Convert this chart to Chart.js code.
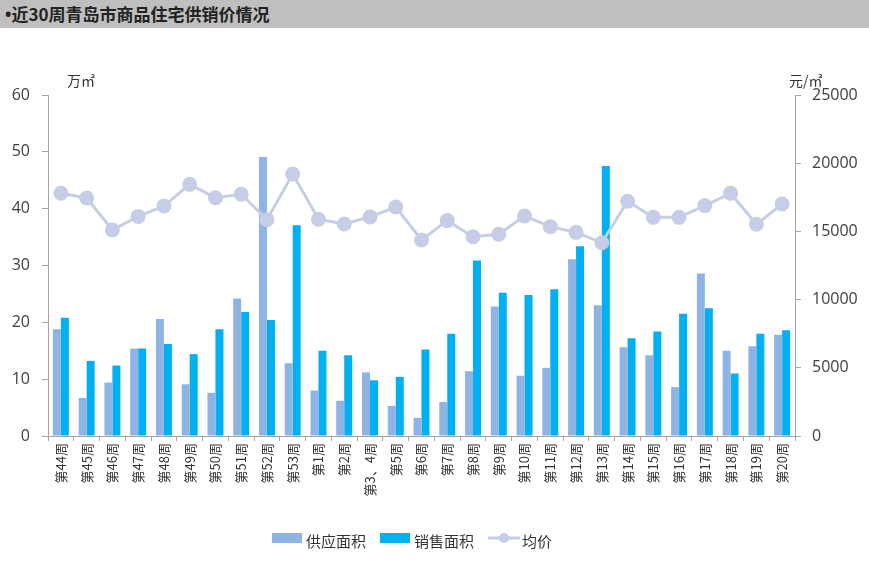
<!DOCTYPE html>
<html>
<head>
<meta charset="utf-8">
<script src="https://cdn.jsdelivr.net/npm/chart.js@4"></script>
<style>
  body { margin: 0; background: #fff; font-family: "Noto Sans CJK SC", sans-serif; }
  #wrap { position: relative; width: 869px; height: 580px; overflow: hidden; }
  #title { position: absolute; left: 0; top: 0; width: 869px; height: 28px; background: #bfbfbf;
           font-weight: bold; font-size: 17px; line-height: 28px; color: #222; padding-left: 5px; box-sizing: border-box; }
  #title .dot { font-family: "Open Sans", sans-serif; }
  canvas { position: absolute; left: 0; top: 0; }
  .unit { position: absolute; top: 70px; font-size: 14px; color: #333; }
  #legend { position: absolute; top: 530px; left: 272px; display: flex; font-size: 15px; color: #333; }
  .item { display: flex; align-items: center; margin-right: 14px; }
  .sw { width: 30px; height: 10px; margin-right: 4px; position: relative; top: -3px; }
</style>
</head>
<body>
<div id="wrap">
  <canvas id="chart" width="869" height="580"></canvas>
  <div id="title"><span class="dot">•</span>近30周青岛市商品住宅供销价情况</div>
  <div class="unit" style="left:67px">万㎡</div>
  <div class="unit" style="left:789px">元/㎡</div>
  <div id="legend"></div>
</div>
<script>
// week labels
const weeks = ['第44周','第45周','第46周','第47周','第48周','第49周','第50周','第51周','第52周','第53周',
  '第1周','第2周','第3、4周','第5周','第6周','第7周','第8周','第9周','第10周','第11周','第12周',
  '第13周','第14周','第15周','第16周','第17周','第18周','第19周','第20周'];

// 万㎡
const supplyArea = [18.8, 6.7, 9.4, 15.4, 20.6, 9.1, 7.6, 24.2, 49.1, 12.8,
  8.0, 6.2, 11.2, 5.3, 3.2, 6.0, 11.4, 22.8, 10.6, 12.0, 31.1,
  23.0, 15.6, 14.2, 8.6, 28.6, 15.0, 15.8, 17.8];
const salesArea = [20.8, 13.2, 12.4, 15.4, 16.2, 14.4, 18.8, 21.8, 20.4, 37.1,
  15.0, 14.2, 9.8, 10.4, 15.2, 18.0, 30.9, 25.2, 24.8, 25.8, 33.4,
  47.5, 17.2, 18.4, 21.5, 22.5, 11.0, 18.0, 18.6];

// 元/㎡
const avgPrice = [17800, 17450, 15100, 16100, 16860, 18450, 17470, 17720, 15860, 19210,
  15890, 15540, 16060, 16790, 14370, 15790, 14610, 14790, 16130, 15350, 14930,
  14170, 17210, 16030, 16030, 16890, 17790, 15520, 17010];

const COLORS = {
    supply: '#8eb4e3',
    sales: '#00b0f0',
    price: '#c5cee6',
    axis: '#a6a6a6',
    text: '#404040'
};

const tickFont = { family: '"Open Sans", "Noto Sans CJK SC", sans-serif', size: 16 };

new Chart(document.getElementById('chart'), {
    type: 'bar',
    data: {
        labels: weeks,
        datasets: [
            {
                type: 'line',
                label: '均价',
                data: avgPrice,
                yAxisID: 'y1',
                borderColor: COLORS.price,
                backgroundColor: COLORS.price,
                borderWidth: 3,
                pointRadius: 6,
                pointHoverRadius: 6,
                tension: 0,
                order: 0
            },
            {
                label: '供应面积',
                data: supplyArea,
                backgroundColor: COLORS.supply,
                yAxisID: 'y',
                categoryPercentage: 0.62,
                barPercentage: 1,
                order: 1
            },
            {
                label: '销售面积',
                data: salesArea,
                backgroundColor: COLORS.sales,
                yAxisID: 'y',
                categoryPercentage: 0.62,
                barPercentage: 1,
                order: 1
            }
        ]
    },
    options: {
        responsive: false,
        animation: false,
        layout: { padding: { top: 95, bottom: 64, left: 0, right: 0 } },
        plugins: {
            legend: { display: false },
            tooltip: { enabled: false }
        },
        scales: {
            x: {
                grid: { drawOnChartArea: false, offset: true, tickLength: 5, color: COLORS.axis },
                border: { color: COLORS.axis },
                ticks: {
                    color: '#333',
                    font: { family: '"Noto Sans CJK SC", sans-serif', size: 13 },
                    minRotation: 90,
                    maxRotation: 90,
                    autoSkip: false,
                    padding: 2
                },
                afterFit: scale => { scale.height = 80; }
            },
            y: {
                position: 'left',
                min: 0,
                max: 60,
                grid: { drawOnChartArea: false, tickLength: 6, color: COLORS.axis },
                border: { color: COLORS.axis },
                ticks: { stepSize: 10, color: COLORS.text, font: tickFont, padding: 12 },
                afterFit: scale => { scale.width = 48; }
            },
            y1: {
                position: 'right',
                min: 0,
                max: 25000,
                grid: { drawOnChartArea: false, tickLength: 6, color: COLORS.axis },
                border: { color: COLORS.axis },
                ticks: {
                    stepSize: 5000,
                    color: COLORS.text,
                    font: tickFont,
                    padding: 11,
                    callback: value => String(value)
                },
                afterFit: scale => { scale.width = 74; }
            }
        }
    }
});

// simple legend below the chart
const legendItems = [
    { label: '供应面积', color: COLORS.supply, kind: 'box' },
    { label: '销售面积', color: COLORS.sales, kind: 'box' },
    { label: '均价', color: COLORS.price, kind: 'line' }
];
const legend = document.getElementById('legend');
legendItems.forEach(it => {
    const el = document.createElement('div');
    el.className = 'item';
    let sw;
    if (it.kind === 'box') {
        sw = `<span class="sw" style="background:${it.color}"></span>`;
    } else {
        sw = `<svg width="32" height="14" style="margin-right:2px;position:relative;top:-3px">
                <line x1="0" y1="7" x2="32" y2="7" stroke="${it.color}" stroke-width="3"/>
                <circle cx="16" cy="7" r="5" fill="${it.color}"/></svg>`;
    }
    el.innerHTML = sw + `<span>${it.label}</span>`;
    legend.appendChild(el);
});
</script>
</body>
</html>
